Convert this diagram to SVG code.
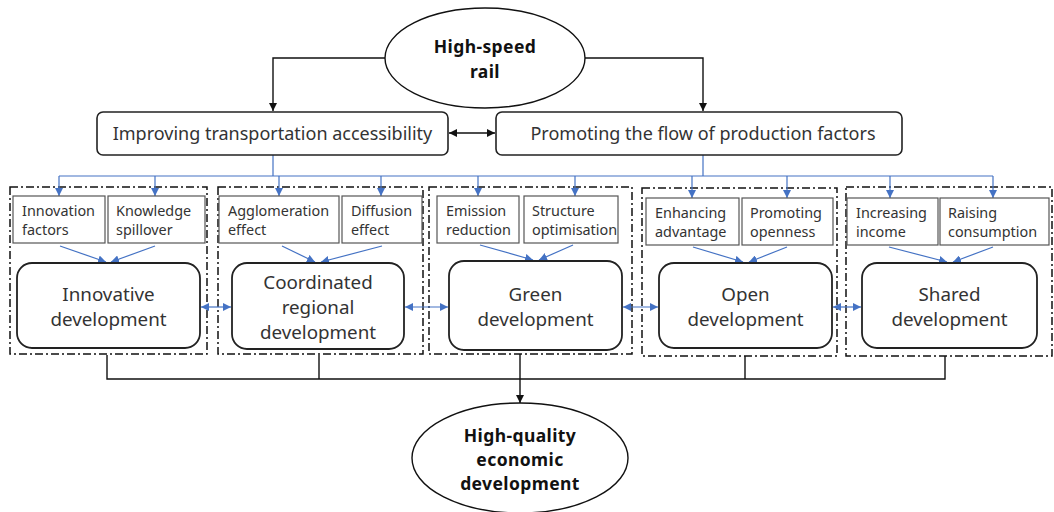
<svg xmlns="http://www.w3.org/2000/svg" width="1054" height="512" viewBox="0 0 1054 512">
  <defs>
    <marker id="arrowBlack" viewBox="0 0 10 10" refX="10" refY="5" markerWidth="8" markerHeight="8" markerUnits="userSpaceOnUse" orient="auto-start-reverse">
      <path d="M0,0 L10,5 L0,10 z" fill="#111"/>
    </marker>
    <marker id="arrowBlue" viewBox="0 0 10 10" refX="10" refY="5" markerWidth="8" markerHeight="8" markerUnits="userSpaceOnUse" orient="auto-start-reverse">
      <path d="M0,0 L10,5 L0,10 z" fill="#4472C4"/>
    </marker>
    <style>
      .ellipse { fill: #fff; stroke: #111; stroke-width: 1.4; }
      .bold { font-family: "Noto Sans", "Open Sans", sans-serif; font-weight: 700; font-size: 17.5px; letter-spacing: 0.4px; fill: #111; text-anchor: middle; }
      .topbox { fill: #fff; stroke: #222; stroke-width: 1.6; }
      .toptext { font-family: "Noto Sans", "Open Sans", sans-serif; font-size: 18px; fill: #333; text-anchor: middle; }
      .group { fill: none; stroke: #111; stroke-width: 1.5; stroke-dasharray: 8 3 2 3; }
      .sub { fill: #fff; stroke: #555; stroke-width: 1.2; }
      .subtext { font-family: "Noto Sans", "Open Sans", sans-serif; font-size: 14.4px; fill: #333; }
      .main { fill: #fff; stroke: #222; stroke-width: 1.8; }
      .maintext { font-family: "Noto Sans", "Open Sans", sans-serif; font-size: 18.8px; fill: #333; text-anchor: middle; }
      .black { fill: none; stroke: #111; stroke-width: 1.4; }
      .blue { fill: none; stroke: #4472C4; stroke-width: 1.2; }
    </style>
  </defs>

  <!-- dash-dot frames around each development dimension -->
  <g id="frames">
    <rect class="group" x="10" y="187" width="197" height="167"/>
    <rect class="group" x="218" y="187" width="205" height="167"/>
    <rect class="group" x="429" y="187" width="203" height="167"/>
    <rect class="group" x="642" y="188" width="195" height="168"/>
    <rect class="group" x="846" y="187" width="206" height="169"/>
  </g>

  <!-- connectors -->
  <g id="connectors">
    <!-- rail to the two channels -->
    <path class="black" d="M385,58 H273 V111" marker-end="url(#arrowBlack)"/>
    <path class="black" d="M585,58 H703 V111" marker-end="url(#arrowBlack)"/>
    <line class="black" x1="449" y1="133" x2="495" y2="133" marker-start="url(#arrowBlack)" marker-end="url(#arrowBlack)"/>

    <!-- channels to the mechanisms -->
    <path class="blue" d="M273,155 V176 M703,155 V176 M59,176 H993"/>
    <line class="blue" x1="59" y1="176" x2="59" y2="196" marker-end="url(#arrowBlue)"/>
    <line class="blue" x1="155" y1="176" x2="155" y2="196" marker-end="url(#arrowBlue)"/>
    <line class="blue" x1="279" y1="176" x2="279" y2="196" marker-end="url(#arrowBlue)"/>
    <line class="blue" x1="381" y1="176" x2="381" y2="196" marker-end="url(#arrowBlue)"/>
    <line class="blue" x1="478" y1="176" x2="478" y2="196" marker-end="url(#arrowBlue)"/>
    <line class="blue" x1="575" y1="176" x2="575" y2="196" marker-end="url(#arrowBlue)"/>
    <line class="blue" x1="692" y1="176" x2="692" y2="198" marker-end="url(#arrowBlue)"/>
    <line class="blue" x1="787" y1="176" x2="787" y2="198" marker-end="url(#arrowBlue)"/>
    <line class="blue" x1="890" y1="176" x2="890" y2="198" marker-end="url(#arrowBlue)"/>
    <line class="blue" x1="993" y1="176" x2="993" y2="198" marker-end="url(#arrowBlue)"/>

    <!-- mechanisms to each dimension -->
    <line class="blue" x1="60" y1="246" x2="106" y2="262" marker-end="url(#arrowBlue)"/>
    <line class="blue" x1="155" y1="246" x2="111" y2="262" marker-end="url(#arrowBlue)"/>
    <line class="blue" x1="282" y1="246" x2="315" y2="262" marker-end="url(#arrowBlue)"/>
    <line class="blue" x1="382" y1="246" x2="321" y2="262" marker-end="url(#arrowBlue)"/>
    <line class="blue" x1="480" y1="245" x2="533" y2="260" marker-end="url(#arrowBlue)"/>
    <line class="blue" x1="573" y1="245" x2="539" y2="260" marker-end="url(#arrowBlue)"/>
    <line class="blue" x1="693" y1="247" x2="743" y2="262" marker-end="url(#arrowBlue)"/>
    <line class="blue" x1="787" y1="247" x2="749" y2="262" marker-end="url(#arrowBlue)"/>
    <line class="blue" x1="889" y1="247" x2="947" y2="262" marker-end="url(#arrowBlue)"/>
    <line class="blue" x1="993" y1="247" x2="953" y2="262" marker-end="url(#arrowBlue)"/>

    <!-- links between neighbouring dimensions -->
    <line class="blue" x1="201" y1="307" x2="231" y2="307" marker-start="url(#arrowBlue)" marker-end="url(#arrowBlue)"/>
    <line class="blue" x1="405" y1="307" x2="448" y2="307" marker-start="url(#arrowBlue)" marker-end="url(#arrowBlue)"/>
    <line class="blue" x1="623" y1="307" x2="658" y2="307" marker-start="url(#arrowBlue)" marker-end="url(#arrowBlue)"/>
    <line class="blue" x1="833" y1="307" x2="861" y2="307" marker-start="url(#arrowBlue)" marker-end="url(#arrowBlue)"/>

    <!-- dimensions to the outcome -->
    <path class="black" d="M107,355 V379 H945 V356 M319,355 V379 M745,356 V379"/>
    <line class="black" x1="520" y1="354" x2="520" y2="403" marker-end="url(#arrowBlack)"/>
  </g>

  <g id="high-speed-rail">
    <ellipse class="ellipse" cx="485" cy="58" rx="100" ry="50"/>
    <text class="bold" x="485" y="53">High-speed</text>
    <text class="bold" x="485" y="78">rail</text>
  </g>

  <g id="transportation-accessibility">
    <rect class="topbox" x="97" y="112" width="351" height="43" rx="6"/>
    <text class="toptext" x="272.5" y="140">Improving transportation accessibility</text>
  </g>

  <g id="factor-flow">
    <rect class="topbox" x="496" y="112" width="406" height="43" rx="6"/>
    <text class="toptext" x="703" y="140">Promoting the flow of production factors</text>
  </g>

  <!-- innovative development -->
  <g id="innovation-factors">
    <rect class="sub" x="13" y="196" width="92" height="47"/>
    <text class="subtext" x="22" y="216">Innovation</text>
    <text class="subtext" x="22" y="235">factors</text>
  </g>
  <g id="knowledge-spillover">
    <rect class="sub" x="108" y="196" width="97" height="47"/>
    <text class="subtext" x="116" y="216">Knowledge</text>
    <text class="subtext" x="116" y="235">spillover</text>
  </g>
  <g id="innovative-development">
    <rect class="main" x="17" y="263" width="183" height="85" rx="15"/>
    <text class="maintext" x="108.5" y="301">Innovative</text>
    <text class="maintext" x="108.5" y="326">development</text>
  </g>

  <!-- coordinated development -->
  <g id="agglomeration-effect">
    <rect class="sub" x="219" y="196" width="120" height="47"/>
    <text class="subtext" x="228" y="216">Agglomeration</text>
    <text class="subtext" x="228" y="235">effect</text>
  </g>
  <g id="diffusion-effect">
    <rect class="sub" x="342" y="196" width="80" height="47"/>
    <text class="subtext" x="351" y="216">Diffusion</text>
    <text class="subtext" x="351" y="235">effect</text>
  </g>
  <g id="coordinated-development">
    <rect class="main" x="232" y="263" width="172" height="86" rx="15"/>
    <text class="maintext" x="318" y="289">Coordinated</text>
    <text class="maintext" x="318" y="314">regional</text>
    <text class="maintext" x="318" y="339">development</text>
  </g>

  <!-- green development -->
  <g id="emission-reduction">
    <rect class="sub" x="437" y="196" width="82" height="47"/>
    <text class="subtext" x="446" y="216">Emission</text>
    <text class="subtext" x="446" y="235">reduction</text>
  </g>
  <g id="structure-optimisation">
    <rect class="sub" x="524" y="196" width="94" height="47"/>
    <text class="subtext" x="532" y="216">Structure</text>
    <text class="subtext" x="532" y="235">optimisation</text>
  </g>
  <g id="green-development">
    <rect class="main" x="449" y="261" width="173" height="89" rx="15"/>
    <text class="maintext" x="535.5" y="301">Green</text>
    <text class="maintext" x="535.5" y="326">development</text>
  </g>

  <!-- open development -->
  <g id="enhancing-advantage">
    <rect class="sub" x="646" y="198" width="93" height="47"/>
    <text class="subtext" x="655" y="218">Enhancing</text>
    <text class="subtext" x="655" y="237">advantage</text>
  </g>
  <g id="promoting-openness">
    <rect class="sub" x="742" y="198" width="91" height="47"/>
    <text class="subtext" x="750" y="218">Promoting</text>
    <text class="subtext" x="750" y="237">openness</text>
  </g>
  <g id="open-development">
    <rect class="main" x="659" y="263" width="173" height="85" rx="15"/>
    <text class="maintext" x="745.5" y="301">Open</text>
    <text class="maintext" x="745.5" y="326">development</text>
  </g>

  <!-- shared development -->
  <g id="increasing-income">
    <rect class="sub" x="847" y="198" width="91" height="47"/>
    <text class="subtext" x="856" y="218">Increasing</text>
    <text class="subtext" x="856" y="237">income</text>
  </g>
  <g id="raising-consumption">
    <rect class="sub" x="940" y="198" width="109" height="47"/>
    <text class="subtext" x="948" y="218">Raising</text>
    <text class="subtext" x="948" y="237">consumption</text>
  </g>
  <g id="shared-development">
    <rect class="main" x="862" y="263" width="175" height="85" rx="15"/>
    <text class="maintext" x="949.5" y="301">Shared</text>
    <text class="maintext" x="949.5" y="326">development</text>
  </g>

  <g id="high-quality-development">
    <ellipse class="ellipse" cx="520" cy="458" rx="108" ry="55"/>
    <text class="bold" x="520" y="442">High-quality</text>
    <text class="bold" x="520" y="466">economic</text>
    <text class="bold" x="520" y="490">development</text>
  </g>
</svg>
